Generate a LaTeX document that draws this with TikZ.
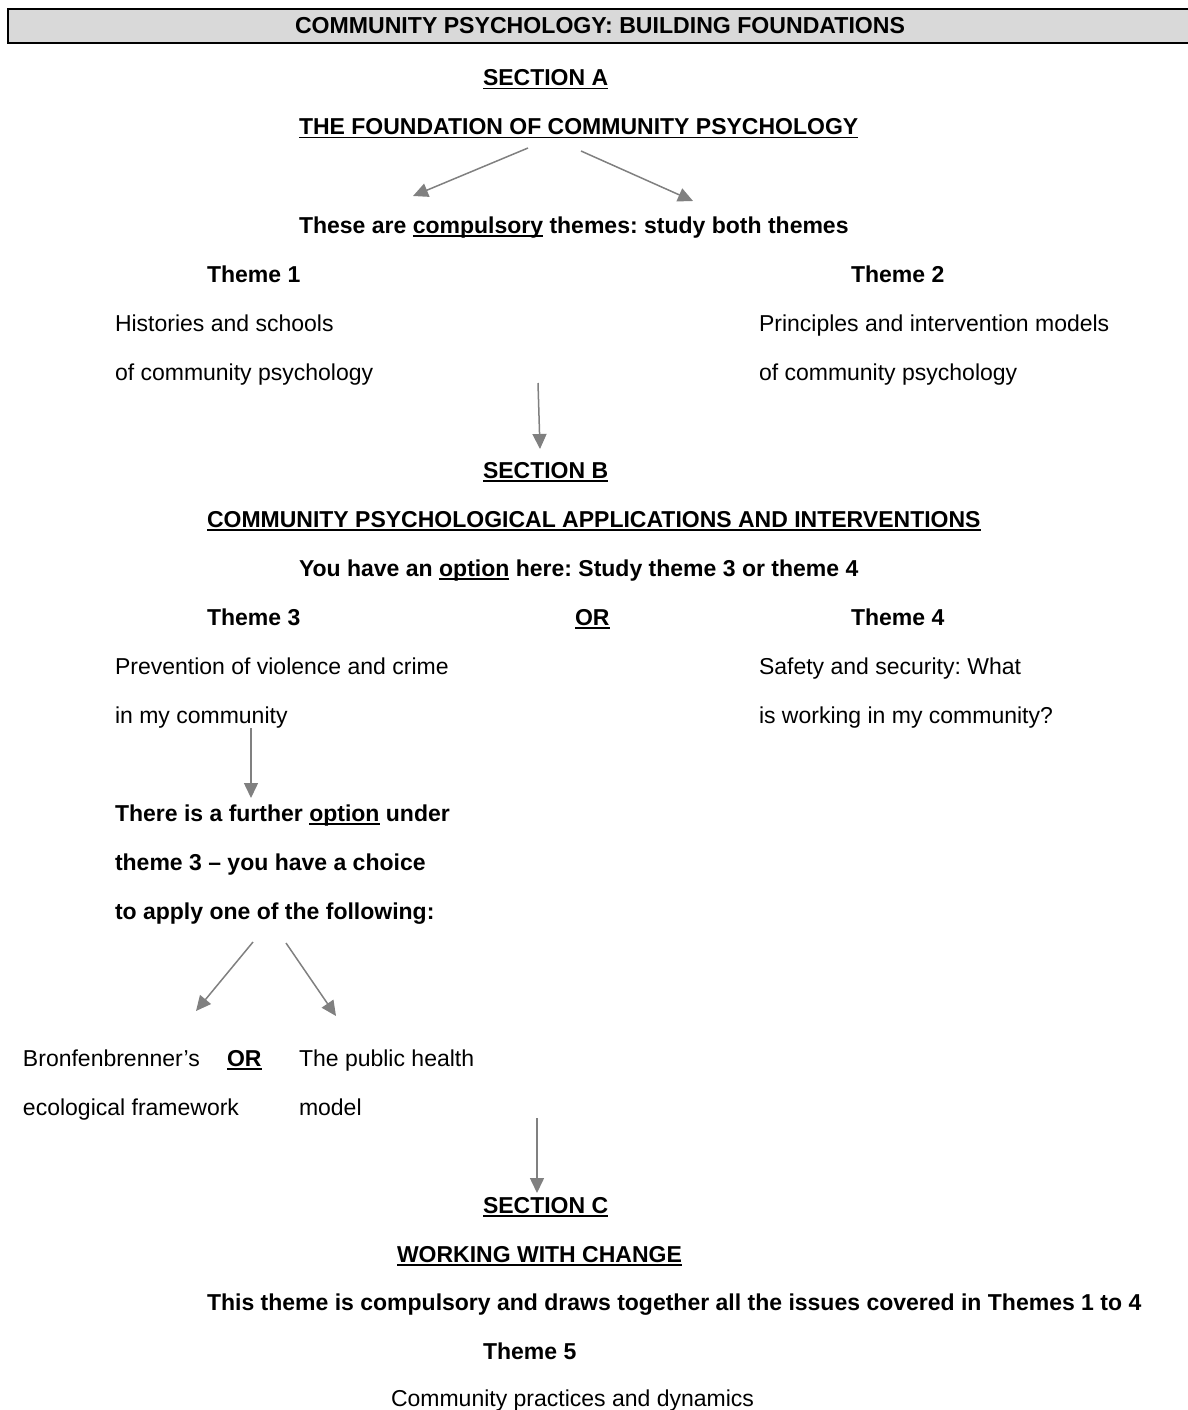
\documentclass[tikz,border=0pt]{standalone}
\usepackage{fontspec}
\setmainfont{Liberation Sans}
\usetikzlibrary{arrows.meta}
\frenchspacing
\definecolor{arrowgray}{RGB}{128,128,128}
\definecolor{barfill}{RGB}{217,217,217}
\newcommand\myul[1]{\setbox0\hbox{#1}\rlap{\rule[-3.5pt]{\wd0}{1.8pt}}\box0\relax}
\tikzset{
  txt/.style={anchor=base west, inner sep=0pt, outer sep=0pt, font=\fontsize{23}{27}\selectfont},
  btxt/.style={txt, font=\fontsize{23}{27}\selectfont\bfseries},
  arr/.style={draw=arrowgray, line width=1.5pt, -{Triangle[length=15pt,width=14pt]}, fill=arrowgray}
}
\begin{document}
\begin{tikzpicture}[x=1pt,y=-1pt]
\useasboundingbox (0,0) rectangle (1187,1410);
% title bar
\draw[fill=barfill, line width=1.2pt] (8,9) rectangle (1192,43);
\node[btxt, anchor=base, font=\fontsize{23.1}{27}\selectfont\bfseries] (title) at (600,34) {COMMUNITY PSYCHOLOGY: BUILDING FOUNDATIONS};
% Section A
\node[btxt] (secA) at (483,86) {\myul{SECTION A}};
\node[btxt] (foundA) at (299,135) {\myul{THE FOUNDATION OF COMMUNITY PSYCHOLOGY}};
\coordinate (a1s) at (528,148); \coordinate (a1e) at (413,196);
\coordinate (a2s) at (581,151); \coordinate (a2e) at (693,201);
\draw[arr] (a1s) -- (a1e);
\draw[arr] (a2s) -- (a2e);
\node[btxt] (compA) at (299,233) {These are \myul{compulsory} themes: study both themes};
\node[btxt] (th1) at (207,282) {Theme 1};
\node[btxt] (th2) at (851,282) {Theme 2};
\node[txt] (th1a) at (115,331) {Histories and schools};
\node[txt] (th1b) at (115,380) {of community psychology};
\node[txt] (th2a) at (759,331) {Principles and intervention models};
\node[txt] (th2b) at (759,380) {of community psychology};
\coordinate (b1s) at (538,383); \coordinate (b1e) at (540,449);
\draw[arr] (b1s) -- (b1e);
% Section B
\node[btxt] (secB) at (483,478) {\myul{SECTION B}};
\node[btxt] (applB) at (207,527) {\myul{COMMUNITY PSYCHOLOGICAL APPLICATIONS AND INTERVENTIONS}};
\node[btxt] (optB) at (299,576) {You have an \myul{option} here: Study theme 3 or theme 4};
\node[btxt] (th3) at (207,625) {Theme 3};
\node[btxt] (orB) at (575,625) {\myul{OR}};
\node[btxt] (th4) at (851,625) {Theme 4};
\node[txt] (th3a) at (115,674) {Prevention of violence and crime};
\node[txt] (th3b) at (115,723) {in my community};
\node[txt] (th4a) at (759,674) {Safety and security: What};
\node[txt] (th4b) at (759,723) {is working in my community?};
\coordinate (c1s) at (251,728); \coordinate (c1e) at (251,798);
\draw[arr] (c1s) -- (c1e);
\node[btxt] (fur1) at (115,821) {There is a further \myul{option} under};
\node[btxt] (fur2) at (115,870) {theme 3 -- you have a choice};
\node[btxt] (fur3) at (115,919) {to apply one of the following:};
\coordinate (d1s) at (253,942); \coordinate (d1e) at (196,1011);
\coordinate (d2s) at (286,943); \coordinate (d2e) at (336,1016);
\draw[arr] (d1s) -- (d1e);
\draw[arr] (d2s) -- (d2e);
\node[txt] (bron1) at (23,1066) {Bronfenbrenner’s};
\node[btxt] (orC) at (227,1066) {\myul{OR}};
\node[txt] (pub1) at (299,1066) {The public health};
\node[txt] (bron2) at (23,1115) {ecological framework};
\node[txt] (pub2) at (299,1115) {model};
\coordinate (e1s) at (537,1118); \coordinate (e1e) at (537,1193);
\draw[arr] (e1s) -- (e1e);
% Section C
\node[btxt] (secC) at (483,1213) {\myul{SECTION C}};
\node[btxt] (workC) at (397,1262) {\myul{WORKING WITH CHANGE}};
\node[btxt] (compC) at (207,1310) {This theme is compulsory and draws together all the issues covered in Themes 1 to 4};
\node[btxt] (th5) at (483,1359) {Theme 5};
\node[txt] (th5a) at (391,1406) {Community practices and dynamics};
\end{tikzpicture}
\end{document}
